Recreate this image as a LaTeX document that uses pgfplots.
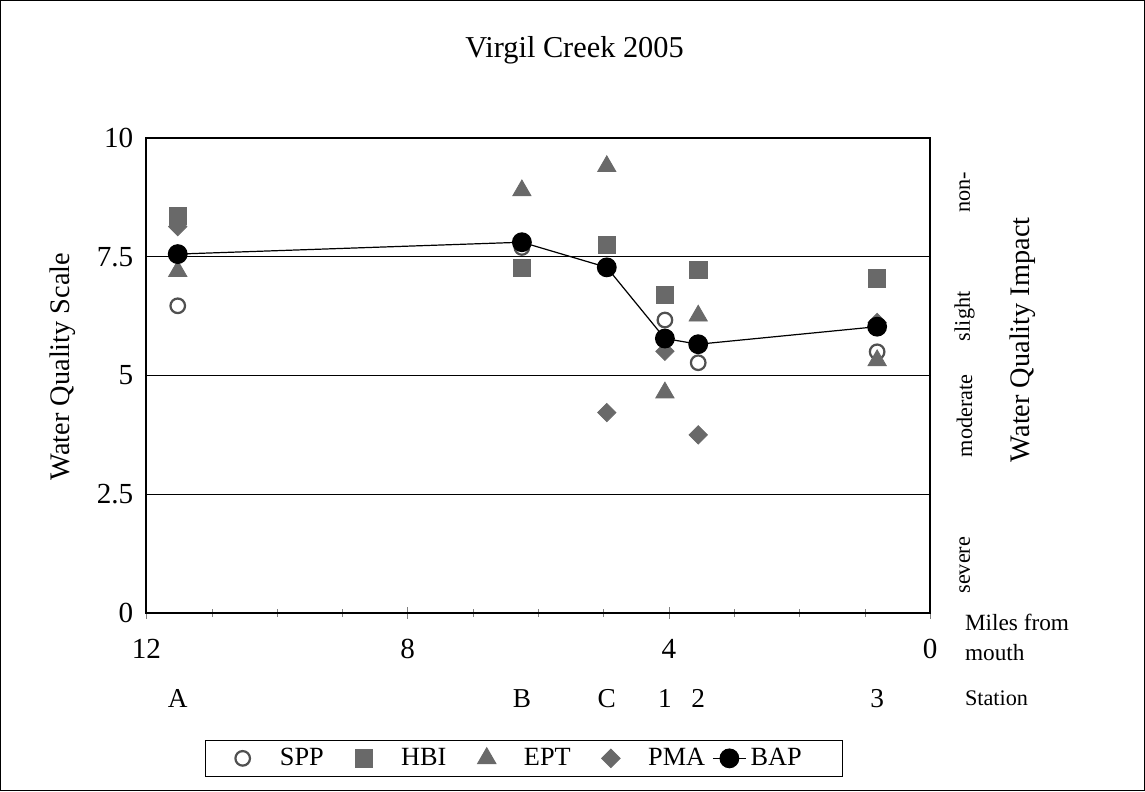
\documentclass[border=0pt]{standalone}
\usepackage{pgfplots}
\pgfplotsset{compat=1.18}
\usepackage{fontspec}
\setmainfont{Liberation Serif}
\definecolor{mk}{RGB}{105,105,105}
\definecolor{spp}{RGB}{80,80,80}
\begin{document}
\begin{tikzpicture}
\begin{axis}[
  scale only axis, width=387.5pt, height=234.6pt,
  xmin=0, xmax=12, ymin=0, ymax=10, x dir=reverse,
  xtick={0,4,8,12}, minor x tick num=3,
  ytick={0,2.5,5,7.5,10},
  /pgf/number format/assume math mode=true,
  tick pos=left, tick align=center,
  major tick length=6pt, minor tick length=4pt,
  ytick style={draw=none},
  axis line style={line width=1pt},
  ymajorgrids, grid style={black, line width=0.5pt},
  xticklabel style={font=\fontsize{14.4}{16}\selectfont},
  xticklabel shift=6.5pt,
  yticklabel style={font=\fontsize{14.4}{16}\selectfont},
  yticklabel shift=0pt,
  clip=false,
  legend style={at={(0.5,0)}, anchor=center, xshift=-7.1pt, yshift=-72pt,
    legend columns=5, draw=black, line width=0.5pt,
    font=\fontsize{13}{15}\selectfont,
    nodes={inner xsep=1pt},
    /tikz/every odd column/.append style={column sep=1pt},
    /tikz/every even column/.append style={column sep=2.5pt},
    inner xsep=2pt, inner ysep=2pt},
  mo/.style={legend image code/.code={\path[draw=none,fill=none] (0pt,-4pt) rectangle (32.8pt,4pt); \draw[mark repeat=2,mark phase=2] plot coordinates {(0pt,0pt)(16.4pt,0pt)(32.8pt,0pt)};}},
]
\addplot[mo, only marks, mark=o, mark size=3.6pt, mark options={draw=spp, line width=1.1pt}]
  coordinates {(11.52,6.47) (6.25,7.7) (4.06,6.17) (3.55,5.27) (0.81,5.5)};
\addlegendentry{SPP}
\addplot[mo, only marks, mark=square*, mark size=4.3pt, mark options={fill=mk, draw=mk}]
  coordinates {(11.52,8.36) (6.25,7.27) (4.95,7.75) (4.06,6.70) (3.55,7.23) (0.81,7.05)};
\addlegendentry{HBI}
\addplot[mo, only marks, mark=triangle*, mark size=5.2pt, mark options={fill=mk, draw=mk}]
  coordinates {(11.52,7.2) (6.25,8.9) (4.95,9.41) (4.06,4.64) (3.55,6.26) (0.81,5.32)};
\addlegendentry{EPT}
\addplot[mo, only marks, mark=square*, mark size=3.2pt, mark options={rotate=45, fill=mk, draw=mk}]
  coordinates {(11.52,8.14) (4.95,4.22) (4.06,5.51) (3.55,3.75) (0.81,6.12)};
\addlegendentry{PMA}
\addplot[black, line width=0.6pt, mark=*, mark size=4.6pt, mark options={fill=black},
  legend image code/.code={\path[draw=none,fill=none] (0pt,-4pt) rectangle (16.4pt,4pt); \draw[mark repeat=2,mark phase=2] plot coordinates {(0pt,0pt)(8.2pt,0pt)(16.4pt,0pt)};}]
  coordinates {(11.52,7.56) (6.25,7.81) (4.95,7.28) (4.06,5.78) (3.55,5.66) (0.81,6.03)};
\addlegendentry{BAP\hspace*{17pt}}
\foreach \xx/\lab in {11.52/A, 6.25/B, 4.95/C, 4.06/1, 3.55/2, 0.81/3}{
  \edef\tmp{\noexpand\node[font=\noexpand\fontsize{13.5}{15}\noexpand\selectfont] at (axis cs:\xx,0) [yshift=-42.3pt] {\lab};}
  \tmp
}
\end{axis}
\draw[line width=0.6pt] (-72.1pt,-88pt) rectangle (493.5pt,302.7pt);
\node[font=\fontsize{15}{18}\selectfont] at (211.7pt,278.3pt) {Virgil Creek 2005};
\node[rotate=90, font=\fontsize{14}{17}\selectfont] at (-41.3pt,121.8pt) {Water Quality Scale};
\node[rotate=90, font=\fontsize{14}{17}\selectfont] at (433.4pt,135pt) {Water Quality Impact};
\begin{scope}[every node/.style={rotate=90, font=\fontsize{11}{13}\selectfont}]
\node at (404.6pt,207.9pt) {non-};
\node at (404.6pt,146.6pt) {slight};
\node at (404.6pt,97.4pt) {moderate};
\node at (404.6pt,23.5pt) {severe};
\end{scope}
\begin{scope}[every node/.style={anchor=west, inner xsep=0pt, font=\fontsize{11.5}{13}\selectfont}]
\node at (404.6pt,-5pt) {Miles from};
\node at (404.6pt,-19.9pt) {mouth};
\node[font=\fontsize{11}{13}\selectfont] at (404.6pt,-42.3pt) {Station};
\end{scope}
\end{tikzpicture}
\end{document}
